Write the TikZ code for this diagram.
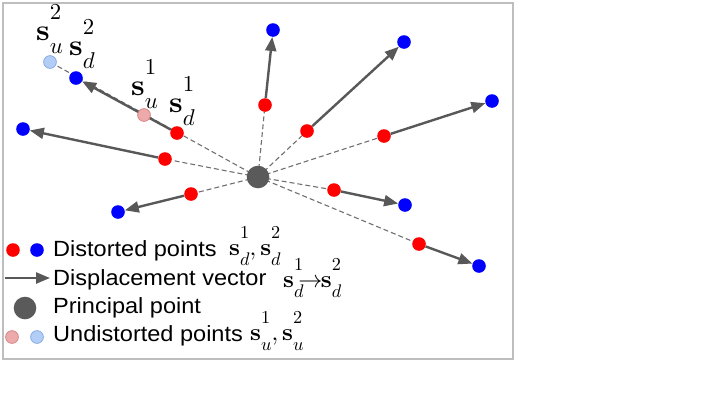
\documentclass[tikz,border=0pt]{standalone}
\usepackage{graphicx}
\usepackage[no-math]{fontspec}
\newfontfamily\legfont{Liberation Sans}[FakeStretch=1.07]
\usetikzlibrary{arrows.meta,backgrounds}
\definecolor{ptred}{RGB}{255,0,0}
\definecolor{ptblue}{RGB}{0,0,255}
\definecolor{pinkfill}{RGB}{236,170,170}
\definecolor{pinkedge}{RGB}{214,128,128}
\definecolor{lbfill}{RGB}{178,206,246}
\definecolor{lbedge}{RGB}{130,166,226}
\definecolor{arrowgray}{RGB}{88,88,88}
\definecolor{dashgray}{RGB}{112,112,112}
\definecolor{ppgray}{RGB}{90,90,90}
\definecolor{framegray}{RGB}{190,190,190}
\newcommand{\svec}[2]{\mathbf{s}\rlap{\raisebox{0.68em}{\scalebox{0.76}{$#2$}}}\raisebox{-0.44em}{\scalebox{0.76}{$#1$}}}
\newcommand{\lblmath}[1]{\scalebox{3.0}{$#1$}}
\newcommand{\legmathbox}[1]{\scalebox{2.4}{$#1$}}
\tikzset{
  dot/.style={circle, inner sep=0pt, minimum size=13.6pt},
  rdot/.style={dot, fill=ptred},
  bdot/.style={dot, fill=ptblue},
  udotr/.style={dot, minimum size=12.8pt, fill=pinkfill, draw=pinkedge, line width=0.7pt},
  udotb/.style={dot, minimum size=12.8pt, fill=lbfill, draw=lbedge, line width=0.7pt},
  ppdot/.style={circle, inner sep=0pt, minimum size=22.6pt, fill=ppgray},
  radial/.style={draw=dashgray, line width=1.1pt, dash pattern=on 5pt off 3pt},
  disp/.style={draw=arrowgray, line width=2.4pt, -{Triangle[length=14pt,width=11pt]}},
  legtext/.style={anchor=base west, inner sep=0pt, font=\legfont\fontsize{22}{26}\selectfont},
  legmath/.style={anchor=base west, inner sep=0pt},
  lbl/.style={anchor=base west, inner sep=0pt}
}
\begin{document}
\begin{tikzpicture}[x=1pt,y=-1pt]
\useasboundingbox (0,0) rectangle (725,410);
\draw[framegray, line width=1.3pt] (3,3) rectangle (513,359);

% principal point
\node[ppdot] (P) at (258,177) {};
% distorted points
\node[rdot] (r1) at (177,133) {};
\node[bdot] (b1) at (76,78) {};
\node[udotr] (u1) at (144,115) {};
\node[udotb] (u2) at (50,62) {};
\node[rdot] (r2) at (165,159) {};
\node[bdot] (b2) at (23,129) {};
\node[rdot] (r3) at (191,194) {};
\node[bdot] (b3) at (118,212) {};
\node[rdot] (r4) at (265,105) {};
\node[bdot] (b4) at (273,30) {};
\node[rdot] (r5) at (307,131) {};
\node[bdot] (b5) at (404,42) {};
\node[rdot] (r6) at (384,136) {};
\node[bdot] (b6) at (492,101) {};
\node[rdot] (r7) at (334,190) {};
\node[bdot] (b7) at (405,205) {};
\node[rdot] (r8) at (419,244) {};
\node[bdot] (b8) at (479,266) {};

\begin{pgfonlayer}{background}
  \draw[radial] (P.center) -- (u2);
  \foreach \i in {2,...,8} { \draw[radial] (P.center) -- (r\i); }
  \foreach \i in {1,...,8} { \draw[disp] (r\i) -- (b\i); }
\end{pgfonlayer}

% labels
\node[lbl] (lsu2) at (36,40) {\lblmath{\svec{u}{2}}};
\node[lbl] (lsd2) at (69,55) {\lblmath{\svec{d}{2}}};
\node[lbl] (lsu1) at (131,95) {\lblmath{\svec{u}{1}}};
\node[lbl] (lsd1) at (169,112) {\lblmath{\svec{d}{1}}};

% legend
\node[rdot] (kr) at (13,250) {};
\node[bdot] (kb) at (37,250) {};
\node[legtext] (t1) at (53,256) {Distorted points};
\node[legmath] (m1) at (229,255) {\legmathbox{\svec{d}{1},\svec{d}{2}}};

\coordinate (ka) at (5,278);
\coordinate (kz) at (50,278);
\draw[disp] (ka) -- (kz);
\node[legtext] (t2) at (53,285) {Displacement vector};
\node[legmath] (m2) at (283,287) {\legmathbox{\svec{d}{1}\mkern-4mu\mathord{\rightarrow}\mkern-1mu\svec{d}{2}}};

\node[ppdot] (kp) at (25,308) {};
\node[legtext] (t3) at (53,313) {Principal point};

\node[udotr] (ku1) at (12,337) {};
\node[udotb] (ku2) at (37,337) {};
\node[legtext] (t4) at (53,341) {Undistorted points};
\node[legmath] (m4) at (250,340) {\legmathbox{\svec{u}{1},\svec{u}{2}}};
\end{tikzpicture}
\end{document}
